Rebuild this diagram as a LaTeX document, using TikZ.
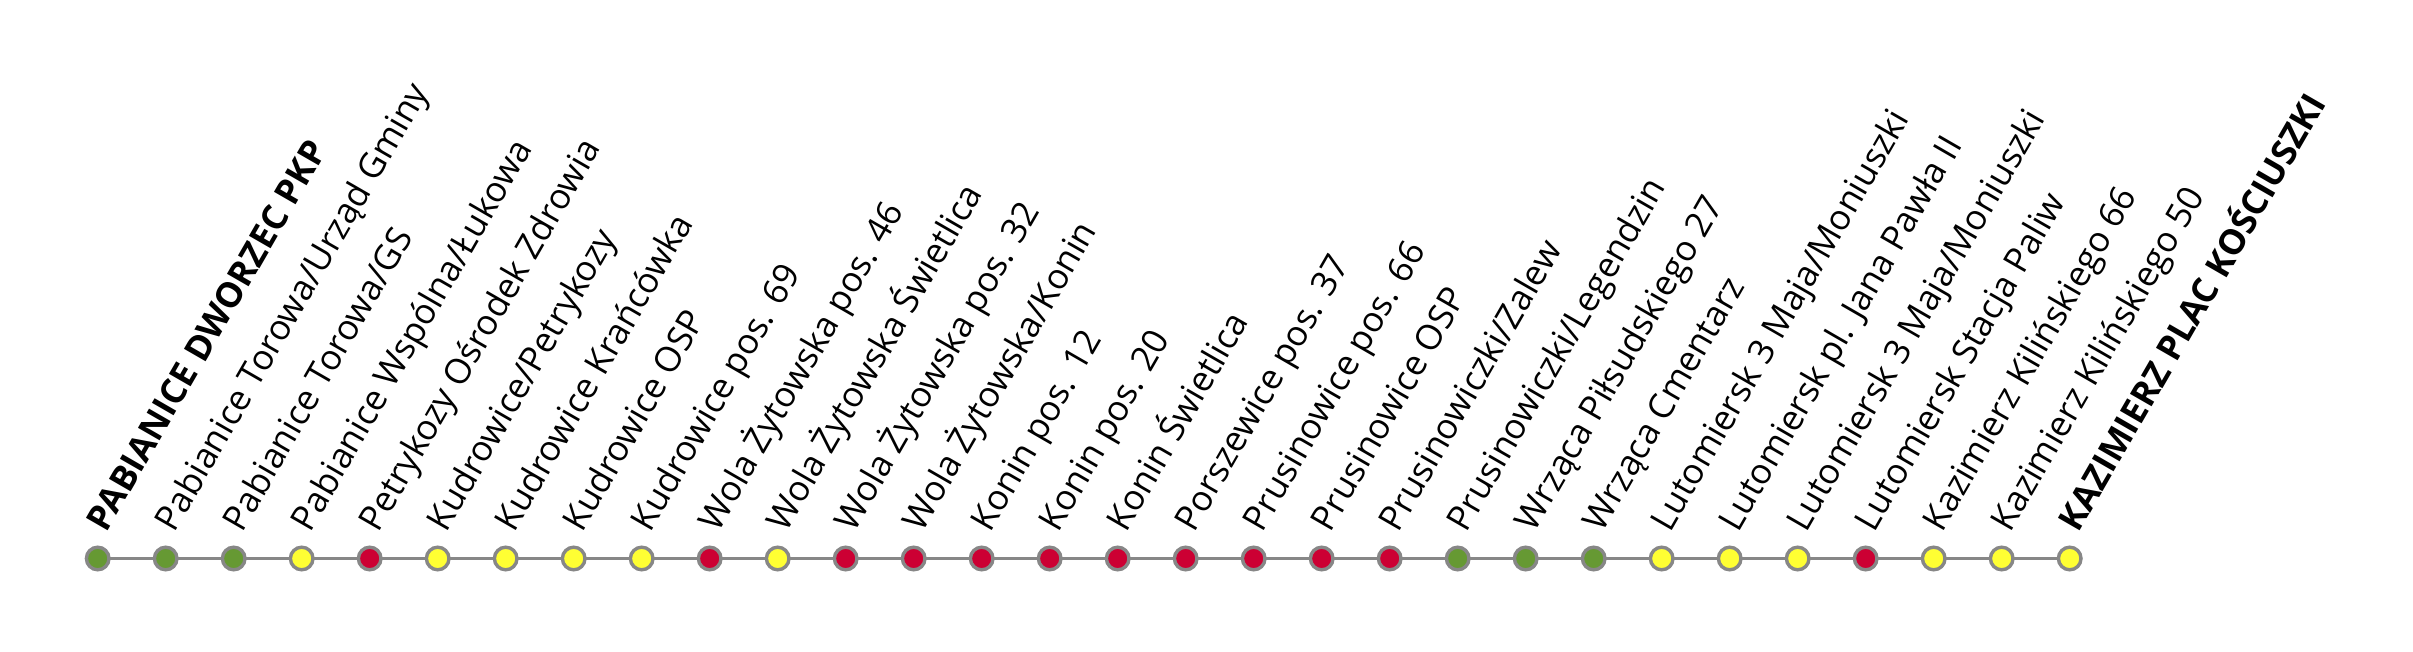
\documentclass[tikz,border=0pt]{standalone}
\usepackage{fontspec}
\setmainfont{Open Sans}
\usetikzlibrary{backgrounds}
\definecolor{stopgreen}{HTML}{669933}
\definecolor{stopyellow}{HTML}{FFFF33}
\definecolor{stopred}{HTML}{CC0033}
\definecolor{linegray}{HTML}{878787}
\tikzset{
  stopdot/.style={circle, draw=linegray, line width=3.4pt, minimum size=22.6pt, inner sep=0pt},
  stoplabel/.style={anchor=base west, rotate=60, inner sep=0pt, font=\fontsize{35}{41}\selectfont},
  routeline/.style={draw=linegray, line width=3.2pt}
}
\newcommand{\busstop}[3]{%
  \node[stopdot, fill=#2] (s#1) at ({97.7+68*(#1-1)}, 92.5) {};
  \node[stoplabel] (l#1) at ({106.7+68*(#1-1)}, 117.5) {#3};
}
\begin{document}
\begin{tikzpicture}[x=1pt, y=1pt]
\useasboundingbox (0,0) rectangle (2413,651);
\busstop{1}{stopgreen}{\bfseries PABIANICE DWORZEC PKP}
\busstop{2}{stopgreen}{Pabianice Torowa/Urząd Gminy}
\busstop{3}{stopgreen}{Pabianice Torowa/GS}
\busstop{4}{stopyellow}{Pabianice Wspólna/Łukowa}
\busstop{5}{stopred}{Petrykozy Ośrodek Zdrowia}
\busstop{6}{stopyellow}{Kudrowice/Petrykozy}
\busstop{7}{stopyellow}{Kudrowice Krańcówka}
\busstop{8}{stopyellow}{Kudrowice OSP}
\busstop{9}{stopyellow}{Kudrowice pos. 69}
\busstop{10}{stopred}{Wola Żytowska pos. 46}
\busstop{11}{stopyellow}{Wola Żytowska Świetlica}
\busstop{12}{stopred}{Wola Żytowska pos. 32}
\busstop{13}{stopred}{Wola Żytowska/Konin}
\busstop{14}{stopred}{Konin pos. 12}
\busstop{15}{stopred}{Konin pos. 20}
\busstop{16}{stopred}{Konin Świetlica}
\busstop{17}{stopred}{Porszewice pos. 37}
\busstop{18}{stopred}{Prusinowice pos. 66}
\busstop{19}{stopred}{Prusinowice OSP}
\busstop{20}{stopred}{Prusinowiczki/Zalew}
\busstop{21}{stopgreen}{Prusinowiczki/Legendzin}
\busstop{22}{stopgreen}{Wrząca Piłsudskiego 27}
\busstop{23}{stopgreen}{Wrząca Cmentarz}
\busstop{24}{stopyellow}{Lutomiersk 3 Maja/Moniuszki}
\busstop{25}{stopyellow}{Lutomiersk pl. Jana Pawła II}
\busstop{26}{stopyellow}{Lutomiersk 3 Maja/Moniuszki}
\busstop{27}{stopred}{Lutomiersk Stacja Paliw}
\busstop{28}{stopyellow}{Kazimierz Kilińskiego 66}
\busstop{29}{stopyellow}{Kazimierz Kilińskiego 50}
\busstop{30}{stopyellow}{\bfseries KAZIMIERZ PLAC KOŚCIUSZKI}
\begin{scope}[on background layer]
  \draw[routeline] (s1.center) -- (s30.center);
\end{scope}
\end{tikzpicture}
\end{document}
